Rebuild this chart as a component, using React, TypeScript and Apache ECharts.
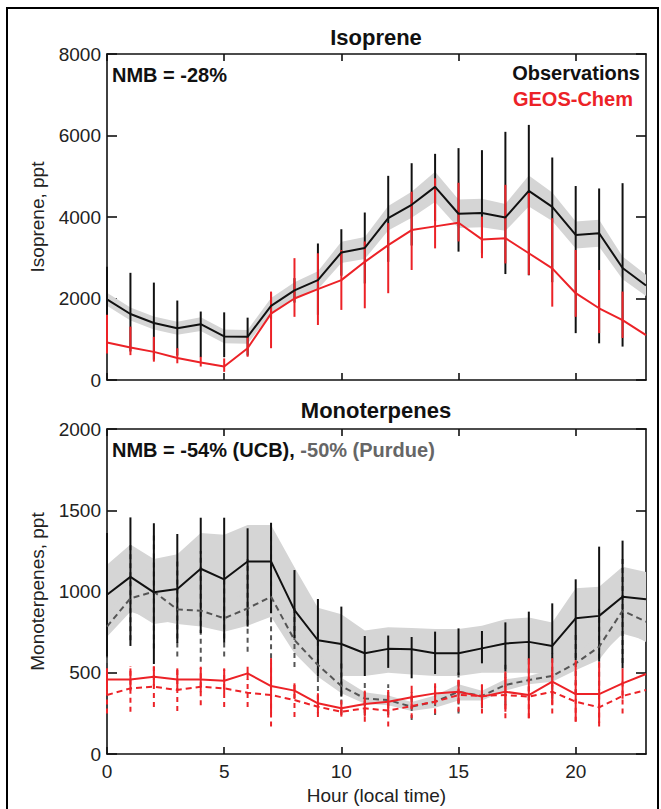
import React, { useEffect, useRef } from "react";
import * as echarts from "echarts";

const FONT = "'Liberation Sans', Arial, Helvetica, sans-serif";

const hours = [0, 1, 2, 3, 4, 5, 6, 7, 8, 9, 10, 11, 12, 13, 14, 15, 16, 17, 18, 19, 20, 21, 22, 23];
const xTicks = [0, 5, 10, 15, 20];

// Isoprene (ppt)
const isoObs = [1980, 1620, 1400, 1270, 1370, 1070, 1060, 1820, 2200, 2450, 3130, 3240, 3970, 4300, 4740, 4080, 4100, 3990, 4640, 4250, 3560, 3600, 2750, 2320];
const isoObsBandLo = [1820, 1460, 1240, 1110, 1200, 900, 890, 1630, 2000, 2230, 2870, 2970, 3670, 3980, 4370, 3730, 3750, 3660, 4260, 3900, 3230, 3270, 2470, 2060];
const isoObsBandHi = [2140, 1780, 1560, 1430, 1540, 1240, 1230, 2010, 2400, 2670, 3390, 3510, 4270, 4620, 5110, 4430, 4450, 4320, 5020, 4600, 3890, 3930, 3030, 2580];
const isoObsHi = [2780, 2630, 2390, 1950, 1680, 1660, 1530, 2150, 2500, 3350, 3700, 4110, 5010, 5320, 5550, 5690, 5640, 6090, 6260, 5460, 4760, 4700, 4830, null];
const isoObsLo = [1180, 700, 500, 600, 560, 560, 600, 1500, 1900, 1600, 2560, 2370, 2900, 3300, 3900, 3150, 3100, 2600, 2570, 2400, 1150, 900, 820, null];
const isoMod = [920, 800, 690, 540, 430, 330, 780, 1630, 2000, 2230, 2450, 2900, 3310, 3680, 3770, 3860, 3450, 3480, 3110, 2740, 2130, 1760, 1470, 1100];
const isoModHi = [1600, 1310, 1060, 780, 570, 530, 1060, 2170, 2990, 3110, 3190, 3400, 3850, 4620, 4950, 4840, 4010, 4790, 4590, 3970, 3190, 2700, 2170, null];
const isoModLo = [650, 610, 450, 410, 330, 200, 570, 780, 1550, 1350, 1720, 1760, 2130, 2700, 3230, 3400, 2990, 2860, 2580, 1800, 1550, 1150, 1030, null];

// Monoterpenes (ppt)
const mtUcb = [980, 1090, 995, 1015, 1140, 1075, 1185, 1185, 885, 700, 677, 620, 647, 644, 620, 620, 650, 680, 690, 665, 835, 850, 968, 952];
const mtUcbBandHi = [1165, 1290, 1200, 1230, 1360, 1350, 1410, 1410, 1150, 900, 860, 760, 780, 775, 770, 770, 790, 830, 840, 810, 1020, 1030, 1153, 1120];
const mtUcbBandLo = [800, 890, 800, 820, 930, 880, 960, 960, 700, 520, 480, 480, 500, 490, 480, 480, 500, 500, 500, 490, 560, 600, 740, 700];
const mtUcbHi = [1360, 1456, 1420, 1354, 1454, 1454, 1389, 1423, 1132, 954, 907, 726, 729, 720, 753, 773, 757, 810, 876, 927, 1075, 1276, 1313, null];
const mtUcbLo = [600, 665, 554, 683, 744, 685, 784, 867, 714, 476, 353, 480, 530, 466, 492, 486, 558, 507, 578, 589, 578, 568, 527, null];

const mtPur = [784, 958, 999, 890, 882, 835, 896, 968, 701, 548, 418, 342, 332, 291, 322, 383, 357, 425, 455, 480, 558, 660, 882, 814];
const mtPurBandHi = [850, 1060, 1170, 980, 980, 920, 1000, 1090, 790, 620, 470, 380, 360, 320, 360, 430, 390, 460, 480, 520, 610, 740, 990, 940];
const mtPurBandLo = [722, 876, 830, 800, 784, 753, 790, 845, 620, 476, 374, 310, 300, 265, 285, 330, 330, 390, 430, 445, 515, 580, 763, 690];
const mtPurHi = [1200, 1300, 1350, 1200, 1250, 1150, 1200, 1350, 900, 750, 580, 450, 430, 380, 420, 510, 450, 550, 580, 620, 750, 900, 1200, null];
const mtPurLo = [560, 700, 650, 600, 568, 600, 630, 590, 535, 332, 250, 240, 240, 210, 240, 250, 283, 300, 330, 340, 370, 420, 560, null];

const mtModUcb = [459, 459, 476, 459, 459, 451, 496, 418, 390, 312, 281, 308, 322, 349, 373, 383, 353, 383, 363, 445, 369, 369, 435, 492];
const mtModUcbHi = [527, 527, 537, 527, 537, 527, 537, 590, 435, 374, 330, 390, 394, 420, 435, 455, 423, 507, 589, 589, 578, 568, 527, null];
const mtModUcbLo = [390, 390, 415, 390, 380, 375, 455, 250, 345, 250, 230, 230, 250, 280, 310, 310, 285, 260, 220, 300, 200, 190, 340, null];
const mtModPur = [363, 404, 414, 394, 414, 404, 377, 363, 332, 291, 260, 281, 267, 295, 322, 363, 357, 363, 353, 383, 322, 287, 357, 394];
const mtModPurHi = [470, 540, 540, 520, 530, 520, 460, 560, 430, 360, 290, 350, 360, 370, 400, 470, 430, 500, 480, 510, 440, 400, 460, null];
const mtModPurLo = [250, 260, 290, 265, 300, 290, 290, 170, 228, 228, 240, 199, 170, 220, 250, 260, 250, 220, 220, 250, 199, 170, 250, null];

const BLACK = "#111111";
const RED = "#ec2227";
const GRAY_LINE = "#555555";
const BAND = "#d5d5d5";

function barSeries(gi: number, lo: (number | null)[], hi: (number | null)[], color: string, dashed: boolean, z: number) {
  const data: number[][] = [];
  hours.forEach((h, i) => {
    const l = lo[i];
    const u = hi[i];
    if (l !== null && u !== null) data.push([h, l, u]);
  });
  return {
    type: "custom",
    xAxisIndex: gi * 2,
    yAxisIndex: gi * 2,
    z,
    silent: true,
    data,
    encode: { x: 0, y: [1, 2] },
    renderItem: (params: any, api: any) => {
      const p1 = api.coord([api.value(0), api.value(1)]);
      const p2 = api.coord([api.value(0), api.value(2)]);
      return {
        type: "line",
        shape: { x1: p1[0], y1: p1[1], x2: p2[0], y2: p2[1] },
        style: { stroke: color, lineWidth: 2, lineDash: dashed ? [5, 4] : null },
      };
    },
  };
}

function bandSeries(gi: number, lo: number[], hi: number[], z: number) {
  const data = hours.map((h, i) => [h, lo[i], hi[i]]);
  return {
    type: "custom",
    xAxisIndex: gi * 2,
    yAxisIndex: gi * 2,
    z,
    silent: true,
    clip: true,
    data,
    encode: { x: 0, y: [1, 2] },
    renderItem: (params: any, api: any) => {
      if (params.dataIndexInside !== 0) return null;
      const n = params.dataInsideLength;
      const top: number[][] = [];
      const bot: number[][] = [];
      for (let k = 0; k < n; k++) {
        const x = api.value(0, k);
        top.push(api.coord([x, api.value(2, k)]));
        bot.push(api.coord([x, api.value(1, k)]));
      }
      const pts = top.concat(bot.reverse());
      return { type: "polygon", shape: { points: pts }, style: { fill: BAND } };
    },
  };
}

function lineSeries(gi: number, vals: number[], color: string, dashed: boolean, z: number) {
  return {
    type: "line",
    xAxisIndex: gi * 2,
    yAxisIndex: gi * 2,
    z,
    silent: true,
    symbol: "none",
    data: hours.map((h, i) => [h, vals[i]]),
    lineStyle: { color, width: 2, type: dashed ? [6, 4] : "solid" },
  };
}

function xAxes(gi: number, showLabels: boolean) {
  const base = {
    type: "value",
    gridIndex: gi,
    min: 0,
    max: 23,
    splitLine: { show: false },
    axisLine: { show: true, onZero: false, lineStyle: { color: "#111", width: 1.6 } },
    axisTick: { show: true, inside: true, length: 7, customValues: xTicks, lineStyle: { color: "#111", width: 1.6 } },
  };
  return [
    {
      ...base,
      position: "bottom",
      axisLabel: showLabels
        ? { show: true, customValues: xTicks, margin: 8, color: "#222", fontSize: 19, fontFamily: FONT, formatter: (v: number) => String(v) }
        : { show: false },
      name: showLabels ? "Hour (local time)" : "",
      nameLocation: "middle",
      nameGap: 32,
      nameTextStyle: { color: "#222", fontSize: 19, fontFamily: FONT },
    },
    { ...base, position: "top", axisLabel: { show: false } },
  ];
}

function yAxes(gi: number, max: number, interval: number, name: string) {
  const base = {
    type: "value",
    gridIndex: gi,
    min: 0,
    max,
    interval,
    splitLine: { show: false },
    axisLine: { show: true, onZero: false, lineStyle: { color: "#111", width: 1.6 } },
    axisTick: { show: true, inside: true, length: 10, lineStyle: { color: "#111", width: 1.6 } },
  };
  return [
    {
      ...base,
      position: "left",
      axisLabel: { show: true, margin: 6, color: "#222", fontSize: 19, fontFamily: FONT, formatter: (v: number) => String(v) },
      name,
      nameLocation: "middle",
      nameGap: 60,
      nameTextStyle: { color: "#222", fontSize: 19, fontFamily: FONT },
    },
    { ...base, position: "right", axisLabel: { show: false } },
  ];
}

export default function App() {
  const ref = useRef<HTMLDivElement>(null);
  useEffect(() => {
    if (!ref.current) return;
    const chart = echarts.init(ref.current, undefined, { renderer: "svg" });
    const option: any = {
      animation: false,
      backgroundColor: "#ffffff",
      grid: [
        { left: 107, right: 15, top: 54, height: 326 },
        { left: 107, right: 15, top: 429, height: 325 },
      ],
      xAxis: [...xAxes(0, false), ...xAxes(1, true)],
      yAxis: [...yAxes(0, 8000, 2000, "Isoprene, ppt"), ...yAxes(1, 2000, 500, "Monoterpenes, ppt")],
      series: [
        bandSeries(0, isoObsBandLo, isoObsBandHi, 1),
        barSeries(0, isoObsLo, isoObsHi, BLACK, false, 2),
        barSeries(0, isoModLo, isoModHi, RED, false, 3),
        lineSeries(0, isoObs, BLACK, false, 4),
        lineSeries(0, isoMod, RED, false, 5),

        bandSeries(1, mtUcbBandLo, mtUcbBandHi, 1),
        bandSeries(1, mtPurBandLo, mtPurBandHi, 1),
        barSeries(1, mtPurLo, mtPurHi, GRAY_LINE, true, 2),
        barSeries(1, mtUcbLo, mtUcbHi, BLACK, false, 2),
        lineSeries(1, mtPur, GRAY_LINE, true, 3),
        lineSeries(1, mtUcb, BLACK, false, 3),
        barSeries(1, mtModPurLo, mtModPurHi, RED, true, 4),
        barSeries(1, mtModUcbLo, mtModUcbHi, RED, false, 4),
        lineSeries(1, mtModPur, RED, true, 5),
        lineSeries(1, mtModUcb, RED, false, 5),
      ],
      graphic: [
        {
          type: "rect",
          shape: { x: 7, y: 8, width: 651, height: 830 },
          style: { fill: "none", stroke: "#000", lineWidth: 2 },
          silent: true,
        },
        {
          type: "text",
          x: 376,
          y: 37,
          style: { text: "Isoprene", fill: "#111", font: `bold 22px ${FONT}`, textAlign: "center", textVerticalAlign: "middle", align: "center", verticalAlign: "middle" },
        },
        {
          type: "text",
          x: 376,
          y: 410,
          style: { text: "Monoterpenes", fill: "#111", font: `bold 22px ${FONT}`, textAlign: "center", textVerticalAlign: "middle", align: "center", verticalAlign: "middle" },
        },
        {
          type: "text",
          x: 112,
          y: 75,
          style: { text: "NMB = -28%", fill: "#111", font: `bold 20px ${FONT}`, textAlign: "left", textVerticalAlign: "middle", align: "left", verticalAlign: "middle" },
        },
        {
          type: "text",
          x: 640,
          y: 73,
          style: { text: "Observations", fill: "#111", font: `bold 20px ${FONT}`, textAlign: "right", textVerticalAlign: "middle", align: "right", verticalAlign: "middle" },
        },
        {
          type: "text",
          x: 633,
          y: 99,
          style: { text: "GEOS-Chem", fill: RED, font: `bold 20px ${FONT}`, textAlign: "right", textVerticalAlign: "middle", align: "right", verticalAlign: "middle" },
        },
        {
          type: "text",
          x: 112,
          y: 450,
          style: {
            text: "{a|NMB = -54% (UCB), }{b|-50% (Purdue)}",
            textAlign: "left",
            textVerticalAlign: "middle",
            align: "left",
            verticalAlign: "middle",
            rich: {
              a: { fill: "#111", font: `bold 20px ${FONT}`, fontFamily: FONT, fontWeight: "bold", fontSize: 20 },
              b: { fill: "#666", font: `bold 20px ${FONT}`, fontFamily: FONT, fontWeight: "bold", fontSize: 20 },
            },
          },
        },
      ],
    };
    chart.setOption(option);
    return () => chart.dispose();
  }, []);
  return <div ref={ref} style={{ position: "absolute", left: 0, top: 0, width: 661, height: 809 }} />;
}
